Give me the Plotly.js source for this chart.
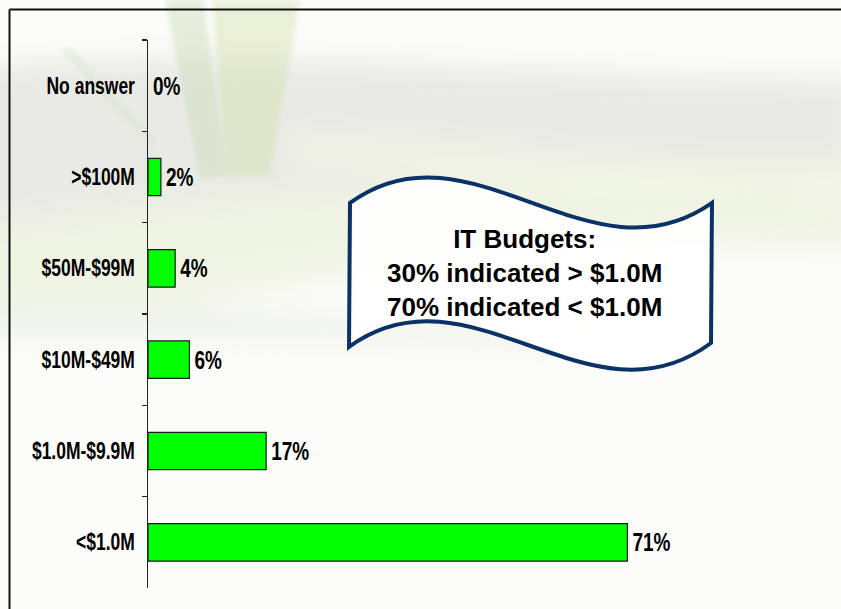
<!DOCTYPE html>
<html>
<head>
<meta charset="utf-8">
<script src="https://cdn.plot.ly/plotly-3.0.1.min.js"></script>
<style>
html,body{margin:0;padding:0;background:#fff;}
#chart{width:841px;height:609px;}
</style>
</head>
<body>
<div id="chart"></div>
<script>
// ---- data ----
var categories = ["No answer", ">$100M", "$50M-$99M", "$10M-$49M", "$1.0M-$9.9M", "<$1.0M"];
var values = [0, 1.9, 4.0, 6.1, 17.4, 70.6];
var valueLabels = ["0%", "2%", "4%", "6%", "17%", "71%"];
var noteLines = ["IT Budgets:", "30% indicated &gt; $1.0M", "70% indicated &lt; $1.0M"];

// ---- layout geometry ----
var W = 841, H = 609;
var M = {l: 148, r: 41, t: 40, b: 21};
var PW = W - M.l - M.r, PH = H - M.t - M.b;
function px(x){ return (x - M.l) / PW; }
function py(y){ return (H - M.b - y) / PH; }
function pt(x, y){ return px(x).toFixed(4) + "," + py(y).toFixed(4); }

var sans = "'Liberation Sans', Arial, sans-serif";
var condense = 0.76;   // horizontal squeeze for the narrow labels

// background picture (decorative)
var bgSvg =
"<svg xmlns='http://www.w3.org/2000/svg' width='841' height='609' viewBox='0 0 841 609'>" +
"<defs>" +
"<filter id='b' x='-20%' y='-20%' width='140%' height='140%'><feGaussianBlur stdDeviation='14'/></filter>" +
"<filter id='s' x='-20%' y='-20%' width='140%' height='140%'><feGaussianBlur stdDeviation='2.5'/></filter>" +
"</defs>" +
"<rect width='841' height='609' fill='#fcfcfa'/>" +
"<g filter='url(#b)'>" +
"<path d='M-40,70 C150,40 420,70 860,80 L860,190 C650,200 380,150 -40,280 Z' fill='#e9eae5'/>" +
"<path d='M-40,230 C200,200 500,160 860,200 L860,250 C520,230 250,300 -40,330 Z' fill='#f0f4e3'/>" +
"<path d='M300,140 C500,150 650,175 860,165 L860,185 C650,195 480,175 300,160 Z' fill='#f4f7e4'/>" +
"<path d='M-40,300 C200,300 400,320 600,330 L600,350 C400,345 200,335 -40,340 Z' fill='#f0f3ec'/>" +
"</g>" +
"<g filter='url(#s)' opacity='0.42'>" +
"<path d='M165,0 L204,0 L226,176 L200,178 Z' fill='#c9d9b4'/>" +
"<path d='M212,0 L300,0 L270,176 L226,178 Z' fill='#d3e0a8'/>" +
"<path d='M62,50 L70,48 L158,142 L150,148 Z' fill='#d4e2c6'/>" +
"</g>" +
"</svg>";
var bgUri = "data:image/svg+xml;charset=utf-8," + encodeURIComponent(bgSvg);

var trace = {
  type: "bar",
  orientation: "h",
  y: categories,
  x: values,
  text: valueLabels,
  textposition: "outside",
  cliponaxis: false,
  textfont: {family: sans, size: 25, color: "#000", weight: "bold"},
  marker: {
    color: "#00FF00",
    line: {color: "#1a1a1a", width: values.map(function(v){ return v > 0 ? 1.2 : 0; })}
  },
  width: 0.41,
  hoverinfo: "skip"
};

var wave = "M" + pt(350,203) +
  " C" + pt(470,115) + " " + pt(590,289) + " " + pt(712,203) +
  " L" + pt(711,343) +
  " C" + pt(590,433) + " " + pt(470,259) + " " + pt(349,347) + " Z";

var layout = {
  width: W, height: H,
  margin: M,
  paper_bgcolor: "#ffffff",
  plot_bgcolor: "rgba(0,0,0,0)",
  showlegend: false,
  xaxis: {visible: false, range: [0, PW / 6.79], fixedrange: true},
  yaxis: {
    type: "category",
    range: [5.5, -0.5],
    showline: true, linecolor: "#222", linewidth: 1.5,
    ticks: "outside", ticklen: 5, tickcolor: "#222", tickwidth: 1.2,
    tickson: "boundaries",
    showgrid: false, zeroline: false,
    ticklabelstandoff: 7,
    tickfont: {family: sans, size: 23, color: "#000", weight: "bold"}
  },
  images: [{
    source: bgUri, xref: "paper", yref: "paper",
    x: px(0), y: py(0), sizex: W / PW, sizey: H / PH,
    xanchor: "left", yanchor: "top", sizing: "stretch", layer: "below"
  }],
  shapes: [
    {type: "path", xref: "paper", yref: "paper", path: wave,
     fillcolor: "rgba(255,255,255,0.9)", line: {color: "#0b3266", width: 4}},
    {type: "line", xref: "paper", yref: "paper", x0: px(9.5), y0: py(9.5), x1: px(860), y1: py(9.5),
     line: {color: "#111", width: 2}},
    {type: "line", xref: "paper", yref: "paper", x0: px(9.5), y0: py(9.5), x1: px(9.5), y1: py(630),
     line: {color: "#111", width: 2}}
  ],
  annotations: [{
    xref: "paper", yref: "paper", x: px(524), y: py(273),
    xanchor: "center", yanchor: "middle", showarrow: false,
    text: noteLines.join("<br>"), align: "center",
    font: {family: sans, size: 26, color: "#000", weight: "bold"}
  }]
};

function squeeze(sel, keepRight, shift){
  document.querySelectorAll(sel).forEach(function(el){
    var bb = el.getBBox();
    if (!bb.width) return;
    el.setAttribute("text-anchor", keepRight ? "end" : "start");
    el.setAttribute("x", (keepRight ? (bb.x + bb.width) : bb.x) + shift);
    el.setAttribute("lengthAdjust", "spacingAndGlyphs");
    el.setAttribute("textLength", (bb.width * condense).toFixed(2));
  });
}

Plotly.newPlot("chart", [trace], layout, {staticPlot: true, displayModeBar: false}).then(function(){
  squeeze("#chart g.ytick text", true, 0);
  squeeze("#chart g.point text", false, 2);
});
</script>
</body>
</html>
